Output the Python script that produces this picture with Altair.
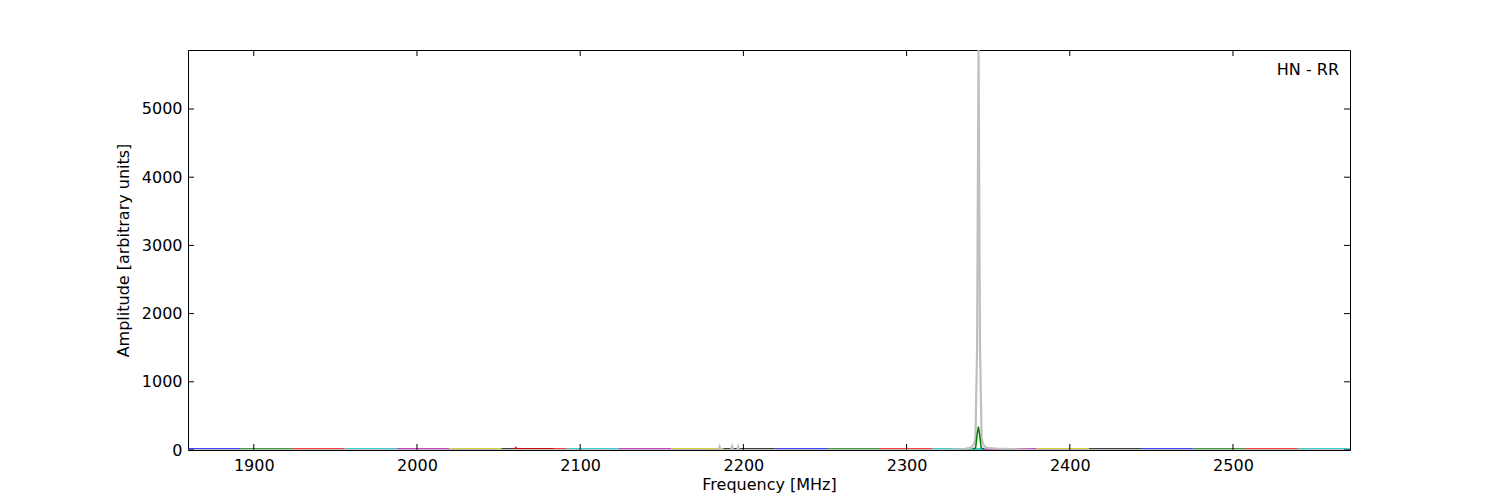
import altair as alt
import pandas as pd

# ---- data ----
# gray raw spectrum (frequency MHz, amplitude)
gray_freq = [1859.7, 2184.8, 2185.4, 2186.0, 2192.5, 2193.1, 2193.7, 2196.2, 2196.8, 2197.4,
             2325.0, 2335.0, 2339.0, 2341.0, 2342.2, 2343.2, 2344.1, 2345.0, 2346.0, 2347.2,
             2349.0, 2355.0, 2365.0, 2380.0, 2571.7]
gray_amp = [0, 0, 45, 0, 0, 50, 0, 0, 45, 0,
            0, 12, 30, 70, 160, 1500, 5865, 1500, 160, 70,
            30, 20, 12, 0, 0]

# green fitted peak
green_freq = [2340.5, 2342.3, 2343.2, 2344.0, 2344.8, 2345.7, 2347.5]
green_amp = [15, 30, 220, 342, 220, 30, 15]

# sub-band baselines (32 MHz wide each), level just above zero
BAND_WIDTH = 32.0
BAND_LEVEL = 16
band1_starts = [1859.7, 1891.7, 1923.7, 1955.7, 1987.7, 2019.7, 2051.7]
band1_colors = ["#0000ff", "#008000", "#ff0000", "#00bfbf", "#bf00bf", "#bfbf00", "#000000"]
band2_starts = [2059.7, 2091.7, 2123.7, 2155.7, 2187.7, 2219.7, 2251.7, 2283.7,
                2315.7, 2347.7, 2379.7, 2411.7, 2443.7, 2475.7, 2507.7, 2539.7]
band2_colors = ["#ff0000", "#00bfbf", "#bf00bf", "#bfbf00", "#000000", "#0000ff", "#008000", "#ff0000",
                "#00bfbf", "#bf00bf", "#bfbf00", "#000000", "#0000ff", "#008000", "#ff0000", "#00bfbf"]
# small red spike at the start of the second group
spike_freq = [2060.0, 2060.6, 2061.2]
spike_amp = [16, 35, 16]

x_ticks = [1900, 2000, 2100, 2200, 2300, 2400, 2500]
y_ticks = [0, 1000, 2000, 3000, 4000, 5000]
X_DOMAIN = [1859.7, 2571.7]
Y_DOMAIN = [0, 5865]
label_text = "HN - RR"

W, H = 1162, 400


def band_frame(starts, colors, group):
    rows = []
    for i, (s, c) in enumerate(zip(starts, colors)):
        rows.append({"band": f"{group}-{i:02d}", "f": s, "a": BAND_LEVEL, "c": c})
        rows.append({"band": f"{group}-{i:02d}", "f": s + BAND_WIDTH, "a": BAND_LEVEL, "c": c})
    return pd.DataFrame(rows)


b1 = band_frame(band1_starts, band1_colors, "g1")
b2 = band_frame(band2_starts, band2_colors, "g2")
spike_rows = [{"band": "g2-00", "f": f, "a": a, "c": "#ff0000"} for f, a in zip(spike_freq, spike_amp)]
b2 = pd.concat([b2, pd.DataFrame(spike_rows)], ignore_index=True).sort_values(["band", "f"])

gray_df = pd.DataFrame({"f": gray_freq, "a": gray_amp})
green_df = pd.DataFrame({"f": green_freq, "a": green_amp})

xs = alt.Scale(domain=X_DOMAIN, nice=False, zero=False)
ys = alt.Scale(domain=Y_DOMAIN, nice=False)

x_enc = alt.X("f:Q", scale=xs, title="Frequency [MHz]",
              axis=alt.Axis(values=x_ticks, format="d", labelPadding=7, titlePadding=3))
y_enc = alt.Y("a:Q", scale=ys, title="Amplitude [arbitrary units]",
              axis=alt.Axis(values=y_ticks, format="d", labelPadding=6, titlePadding=10))

band1_layer = alt.Chart(b1).mark_line(strokeWidth=1.5, clip=True).encode(
    x=x_enc, y=y_enc, detail="band:N", color=alt.Color("c:N", scale=None), order="f:Q")
band2_layer = alt.Chart(b2).mark_line(strokeWidth=1.5, clip=True).encode(
    x=x_enc, y=y_enc, detail="band:N", color=alt.Color("c:N", scale=None), order="f:Q")
gray_layer = alt.Chart(gray_df).mark_line(color="#bfbfbf", strokeWidth=2.2, clip=True).encode(
    x=x_enc, y=y_enc, order="f:Q")
green_layer = alt.Chart(green_df).mark_line(color="#008000", strokeWidth=1.5, clip=True).encode(
    x=x_enc, y=y_enc, order="f:Q")

TICK = 6
xt = pd.DataFrame({"t": x_ticks})
yt = pd.DataFrame({"t": y_ticks})
xtick_bottom = alt.Chart(xt).mark_rule(color="black", strokeWidth=1).encode(
    x=alt.X("t:Q", scale=xs), y=alt.value(H), y2=alt.value(H - TICK))
xtick_top = alt.Chart(xt).mark_rule(color="black", strokeWidth=1).encode(
    x=alt.X("t:Q", scale=xs), y=alt.value(0), y2=alt.value(TICK))
ytick_left = alt.Chart(yt).mark_rule(color="black", strokeWidth=1).encode(
    y=alt.Y("t:Q", scale=ys), x=alt.value(0), x2=alt.value(TICK))
ytick_right = alt.Chart(yt).mark_rule(color="black", strokeWidth=1).encode(
    y=alt.Y("t:Q", scale=ys), x=alt.value(W), x2=alt.value(W - TICK))

txt = alt.Chart(pd.DataFrame({"label": [label_text]})).mark_text(
    align="right", baseline="middle", fontSize=16, font="DejaVu Sans", color="black"
).encode(text="label:N", x=alt.value(W - 11), y=alt.value(20))

chart = alt.layer(
    band1_layer, band2_layer, gray_layer, green_layer,
    xtick_bottom, xtick_top, ytick_left, ytick_right, txt
).properties(
    width=W, height=H,
    autosize="none",
    background="white",
    padding={"left": 180, "top": 42, "right": 140, "bottom": 50},
).configure_view(
    stroke="black", strokeWidth=1
).configure_axis(
    grid=False, ticks=False, tickSize=0, domain=False,
    labelFont="DejaVu Sans", labelFontSize=16, labelColor="black",
    titleFont="DejaVu Sans", titleFontSize=16, titleFontWeight="normal", titleColor="black",
)

chart.save("out.html", embed_options={"renderer": "svg", "actions": False})
